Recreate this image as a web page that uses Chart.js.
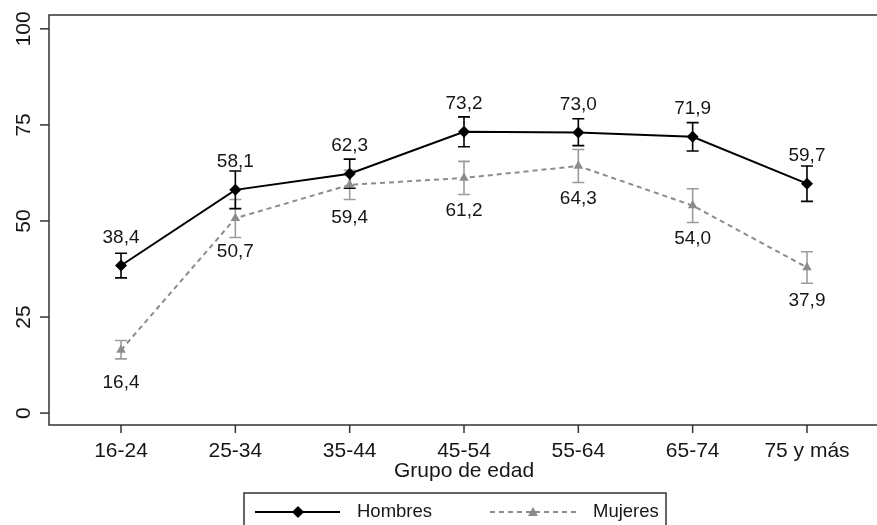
<!DOCTYPE html>
<html>
<head>
<meta charset="utf-8">
<script src="https://cdn.jsdelivr.net/npm/chart.js@4/dist/chart.umd.min.js"></script>
<style>
  html, body { margin: 0; padding: 0; background: #fff; }
</style>
</head>
<body>
<canvas id="grafico" width="877" height="525"></canvas>
<script>
// datos
const grupos = ['16-24', '25-34', '35-44', '45-54', '55-64', '65-74', '75 y más'];
const hombres = [38.4, 58.1, 62.3, 73.2, 73.0, 71.9, 59.7];
const hombresInf = [35.2, 53.2, 58.5, 69.3, 69.6, 68.2, 55.1];
const hombresSup = [41.6, 63.0, 66.1, 77.1, 76.6, 75.6, 64.3];
const mujeres = [16.4, 50.7, 59.4, 61.2, 64.3, 54.0, 37.9];
const mujeresInf = [14.1, 45.7, 55.6, 56.9, 60.0, 49.6, 33.8];
const mujeresSup = [18.9, 55.6, 63.2, 65.5, 68.6, 58.4, 42.0];
const yTicks = [0, 25, 50, 75, 100];

const fuente = '"Liberation Sans", Arial, sans-serif';
const colorH = '#000000';
const colorM = '#8c8c8c';
const colorMBarra = '#9c9c9c';
const colorTexto = '#161616';

const fmt = v => v.toFixed(1).replace('.', ',');

const extras = {
    id: 'extras',
    beforeDatasetsDraw(chart) {
        const ctx = chart.ctx;
        const xs = chart.scales.x, ys = chart.scales.y;
        const barras = [
            { inf: mujeresInf, sup: mujeresSup, color: colorMBarra },
            { inf: hombresInf, sup: hombresSup, color: colorH }
        ];
        ctx.save();
        ctx.lineWidth = 1.6;
        barras.forEach(b => {
            ctx.strokeStyle = b.color;
            b.inf.forEach((lo, i) => {
                const x = xs.getPixelForValue(i);
                const y1 = ys.getPixelForValue(lo);
                const y2 = ys.getPixelForValue(b.sup[i]);
                ctx.beginPath();
                ctx.moveTo(x, y1); ctx.lineTo(x, y2);
                ctx.moveTo(x - 6, y1); ctx.lineTo(x + 6, y1);
                ctx.moveTo(x - 6, y2); ctx.lineTo(x + 6, y2);
                ctx.stroke();
            });
        });
        ctx.restore();
    },
    afterDraw(chart) {
        const ctx = chart.ctx;
        const xs = chart.scales.x, ys = chart.scales.y;
        const a = chart.chartArea;
        ctx.save();
        // marco (sin borde derecho, queda fuera de la imagen)
        ctx.strokeStyle = '#333';
        ctx.lineWidth = 1.5;
        ctx.beginPath();
        ctx.moveTo(chart.width, a.top);
        ctx.lineTo(a.left, a.top);
        ctx.lineTo(a.left, a.bottom);
        ctx.lineTo(chart.width, a.bottom);
        ctx.stroke();

        ctx.fillStyle = colorTexto;
        // eje y
        ctx.font = '21px ' + fuente;
        ctx.textAlign = 'center';
        ctx.textBaseline = 'middle';
        yTicks.forEach(v => {
            const y = ys.getPixelForValue(v);
            ctx.beginPath();
            ctx.moveTo(a.left - 9, y); ctx.lineTo(a.left, y);
            ctx.stroke();
            ctx.save();
            ctx.translate(24, y);
            ctx.rotate(-Math.PI / 2);
            ctx.fillText(String(v), 0, 0);
            ctx.restore();
        });
        // eje x
        grupos.forEach((g, i) => {
            const x = xs.getPixelForValue(i);
            ctx.beginPath();
            ctx.moveTo(x, a.bottom); ctx.lineTo(x, a.bottom + 8);
            ctx.stroke();
            ctx.fillText(g, x, 451);
        });
        ctx.fillText('Grupo de edad', xs.getPixelForValue(3), 471);

        // etiquetas de valores
        ctx.font = '19px ' + fuente;
        hombres.forEach((v, i) => {
            ctx.fillText(fmt(v), xs.getPixelForValue(i), ys.getPixelForValue(v) - 28);
        });
        mujeres.forEach((v, i) => {
            ctx.fillText(fmt(v), xs.getPixelForValue(i), ys.getPixelForValue(v) + 33);
        });

        // leyenda
        ctx.strokeStyle = '#333';
        ctx.lineWidth = 1.5;
        ctx.strokeRect(244, 493, 422, 40);
        const yl = 512;
        ctx.strokeStyle = colorH;
        ctx.lineWidth = 2;
        ctx.beginPath(); ctx.moveTo(255, yl); ctx.lineTo(340, yl); ctx.stroke();
        ctx.fillStyle = colorH;
        ctx.beginPath();
        ctx.moveTo(298, yl - 6); ctx.lineTo(304, yl); ctx.lineTo(298, yl + 6); ctx.lineTo(292, yl);
        ctx.closePath(); ctx.fill();
        ctx.strokeStyle = colorM;
        ctx.setLineDash([5, 4]);
        ctx.beginPath(); ctx.moveTo(490, yl); ctx.lineTo(577, yl); ctx.stroke();
        ctx.setLineDash([]);
        ctx.fillStyle = colorM;
        ctx.beginPath();
        ctx.moveTo(533, yl - 5); ctx.lineTo(538, yl + 4); ctx.lineTo(528, yl + 4);
        ctx.closePath(); ctx.fill();
        ctx.fillStyle = colorTexto;
        ctx.font = '18.5px ' + fuente;
        ctx.textAlign = 'left';
        ctx.fillText('Hombres', 357, yl);
        ctx.fillText('Mujeres', 593, yl);
        ctx.restore();
    }
};

const grafico = new Chart(document.getElementById('grafico'), {
    type: 'line',
    data: {
        datasets: [{
            label: 'Mujeres',
            data: mujeres.map((v, i) => ({ x: i, y: v })),
            borderColor: colorM,
            backgroundColor: colorM,
            borderWidth: 2,
            borderDash: [5, 4],
            pointStyle: 'triangle',
            pointRadius: 5.5,
            pointBorderWidth: 0,
            tension: 0
        },
        {
            label: 'Hombres',
            data: hombres.map((v, i) => ({ x: i, y: v })),
            borderColor: colorH,
            backgroundColor: colorH,
            borderWidth: 2,
            pointStyle: 'rectRot',
            pointRadius: 6,
            pointBorderWidth: 0,
            tension: 0
        }]
    },
    options: {
        responsive: false,
        animation: false,
        layout: { padding: { left: 49, top: 15, right: 0, bottom: 100 } },
        plugins: {
            legend: { display: false },
            tooltip: { enabled: false }
        },
        scales: {
            x: { type: 'linear', min: -0.63, max: 6.56, display: false },
            y: { min: -3.1, max: 103.6, display: false }
        }
    },
    plugins: [extras]
});
</script>
</body>
</html>
